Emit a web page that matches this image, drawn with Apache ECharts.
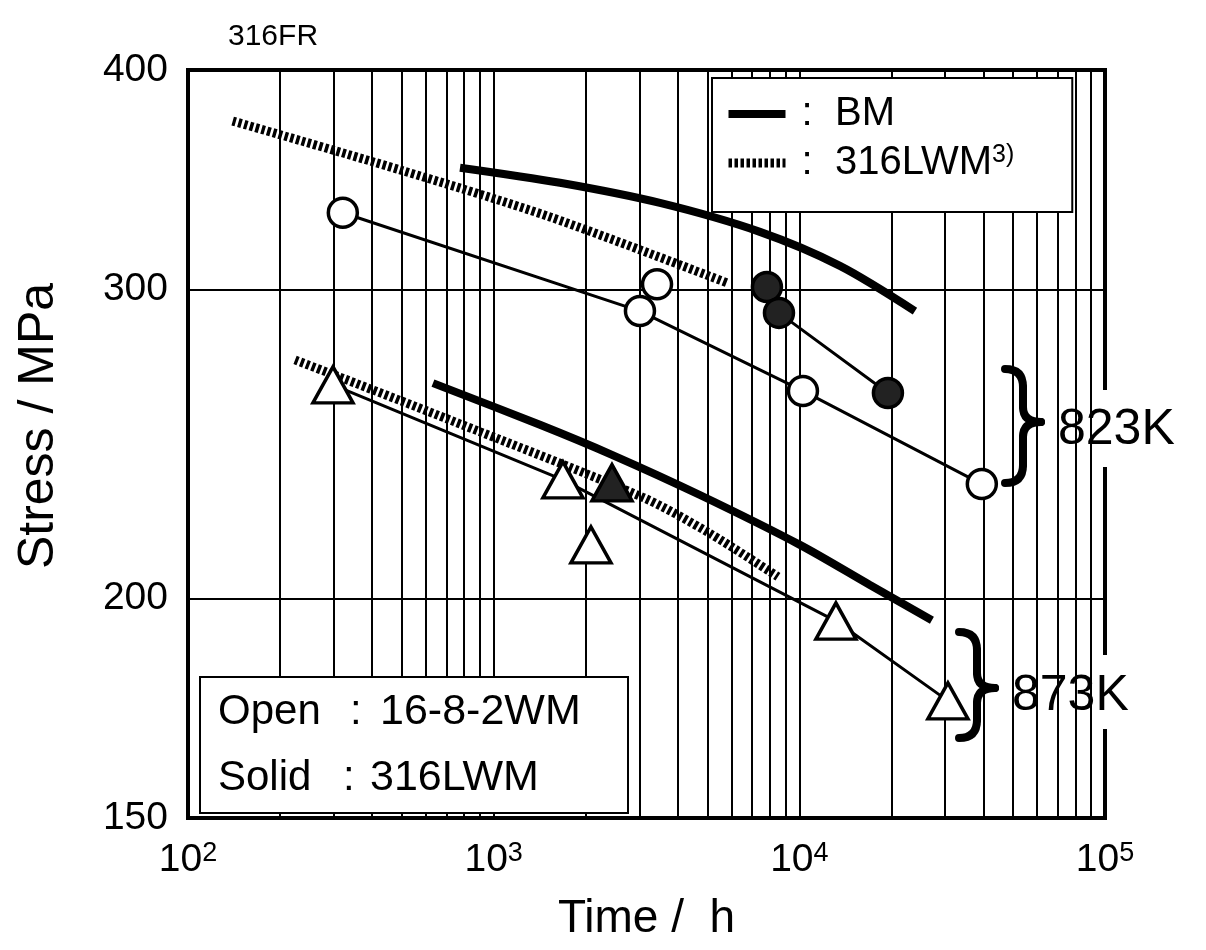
<!DOCTYPE html>
<html>
<head>
<meta charset="utf-8">
<title>316FR</title>
<script src="https://cdn.jsdelivr.net/npm/echarts@6/dist/echarts.min.js"></script>
<style>
    html, body { margin: 0; padding: 0; background: #fff; }
    #chart { width: 1206px; height: 950px; }
</style>
</head>
<body>
<div id="chart"></div>
<script>
// 轴刻度 / 网格
const timeTicks = [100, 1000, 10000, 100000]
const stressTicks = [150, 200, 300, 400]
const timeGrid = [200, 300, 400, 500, 600, 700, 800, 900, 1000,
    2000, 3000, 4000, 5000, 6000, 7000, 8000, 9000, 10000,
    20000, 30000, 40000, 50000, 60000, 70000, 80000, 90000]
const stressGrid = [200, 300]

// BM (粗实线)
const bm823 = [[776, 351.9], [1648, 345.0], [3499, 336.0], [7431, 323.5], [13575, 309.4], [23890, 291.6]]
const bm873 = [[633, 265.3], [1417, 251.2], [2438, 241.5], [4729, 229.1], [10046, 214.6], [17020, 203.6], [27150, 194.4]]
// 316LWM 3) (斜纹线)
const lwm823 = [[140, 374.1], [494, 350.9], [1528, 329.9], [5798, 302.6]]
const lwm873 = [[224, 273.5], [719, 252.8], [3056, 228.5], [5062, 218.0], [8511, 205.8]]
// 16-8-2WM (空心)
const open823 = [[321, 331.7], [3010, 291.6], [10275, 262.6], [39540, 232.4]]
const open823Single = [[3423, 302.0]]
const open873 = [[298, 264.7], [1685, 233.7], [13175, 194.2], [30630, 174.9]]
const open873Single = [[2081, 214.6]]
// 316LWM (实心)
const solid823 = [[7834, 300.9], [8578, 290.9], [19490, 261.9]]
const solid873 = [[2438, 232.8]]

const FONT = '"Liberation Sans", Arial, sans-serif'

let chart = echarts.init(document.getElementById('chart'))

function thickLine (name, data, hatched) {
    return {
        name: name,
        type: 'line',
        data: data,
        smooth: 0.3,
        symbol: 'none',
        silent: true,
        z: 4,
        itemStyle: { color: '#000' },
        lineStyle: {
            color: '#000',
            width: hatched ? 9 : 8,
            type: hatched ? [3.5, 2.5] : 'solid',
            cap: 'butt'
        }
    }
}

function markerLine (data, symbol, size, filled) {
    return {
        type: 'line',
        data: data,
        symbol: symbol,
        symbolSize: size,
        showSymbol: true,
        showAllSymbol: true,
        silent: true,
        z: 5,
        lineStyle: { color: '#000', width: 3 },
        itemStyle: {
            color: filled ? '#222' : '#fff',
            borderColor: '#000',
            borderWidth: 3.5
        }
    }
}

function markerOnly (data, symbol, size, filled) {
    return {
        type: 'scatter',
        data: data,
        symbol: symbol,
        symbolSize: size,
        silent: true,
        z: 6,
        itemStyle: {
            color: filled ? '#222' : '#fff',
            borderColor: '#000',
            borderWidth: 3.5,
            opacity: 1
        }
    }
}

// 大括号 "}"
function brace (x, y, h, tip) {
    let st = { fill: null, stroke: '#000', lineWidth: 8, lineCap: 'round' }
    let curve = (x1, y1, c1x, c1y, c2x, c2y, x2, y2) => ({
        type: 'bezierCurve', silent: true, z: 10,
        shape: { x1: x1, y1: y1, cpx1: c1x, cpy1: c1y, cpx2: c2x, cpy2: c2y, x2: x2, y2: y2 },
        style: st
    })
    let line = (x1, y1, x2, y2) => ({
        type: 'line', silent: true, z: 10,
        shape: { x1: x1, y1: y1, x2: x2, y2: y2 },
        style: st
    })
    return {
        type: 'group',
        x: x,
        y: y,
        silent: true,
        children: [
            curve(2, 2, 14, 2, 20, 8, 20, 20),
            line(20, 20, 20, tip - 15),
            curve(20, tip - 15, 20, tip - 5, 26, tip, 38, tip),
            curve(38, tip, 26, tip, 20, tip + 5, 20, tip + 15),
            line(20, tip + 15, 20, h - 20),
            curve(20, h - 20, 20, h - 8, 14, h - 2, 2, h - 2)
        ]
    }
}

function whiteBox (x, y, w, h) {
    return { type: 'rect', x: x, y: y, z: 2, silent: true, shape: { width: w, height: h }, style: { fill: '#fff' } }
}

function label (text, x, y, size) {
    return {
        type: 'text', x: x, y: y, z: 11, silent: true,
        style: { text: text, font: size + 'px ' + FONT, fill: '#000', verticalAlign: 'middle', align: 'left' }
    }
}

let option = {
    animation: false,
    backgroundColor: '#fff',
    title: {
        text: '316FR',
        left: 223,
        top: 17,
        textStyle: { fontFamily: FONT, fontSize: 30, fontWeight: 'normal', color: '#000' }
    },
    legend: {
        data: ['BM', '316LWM'],
        orient: 'vertical',
        left: 712,
        top: 78,
        padding: [16, 58, 29, 12],
        itemGap: 9,
        itemWidth: 57,
        itemHeight: 14,
        backgroundColor: '#fff',
        borderColor: '#000',
        borderWidth: 2,
        selectedMode: false,
        z: 10,
        itemStyle: { opacity: 0 },
        lineStyle: { width: 'inherit' },
        formatter: function (name) {
            return name === 'BM' ? ' :  BM' : ' :  316LWM{s|3)}'
        },
        textStyle: {
            fontFamily: FONT,
            fontSize: 40,
            lineHeight: 40,
            color: '#000',
            rich: {
                s: { fontFamily: FONT, fontSize: 25, color: '#000', verticalAlign: 'top', lineHeight: 40 }
            }
        }
    },
    grid: {
        left: 188,
        top: 70,
        right: 101,
        bottom: 132,
        show: true,
        borderColor: '#000',
        borderWidth: 4,
        backgroundColor: '#fff'
    },
    xAxis: {
        type: 'log',
        logBase: 10,
        min: 100,
        max: 100000,
        name: 'Time /  h',
        nameLocation: 'middle',
        nameGap: 78,
        nameTextStyle: { fontFamily: FONT, fontSize: 46, color: '#000' },
        axisLine: { show: false },
        axisTick: { show: false },
        splitLine: { show: false },
        axisLabel: {
            customValues: timeTicks,
            margin: 22,
            color: '#000',
            formatter: function (v) {
                return '{b|10}{s|' + Math.round(Math.log10(v)) + '}'
            },
            rich: {
                b: { fontFamily: FONT, fontSize: 39, color: '#000', lineHeight: 40 },
                s: { fontFamily: FONT, fontSize: 27, color: '#000', verticalAlign: 'top', lineHeight: 40 }
            }
        }
    },
    yAxis: {
        type: 'log',
        logBase: 10,
        min: 150,
        max: 400,
        name: 'Stress / MPa',
        nameLocation: 'middle',
        nameGap: 124,
        nameTextStyle: { fontFamily: FONT, fontSize: 50, color: '#000', padding: [0, 0, 0, 36] },
        axisLine: { show: false },
        axisTick: { show: false },
        splitLine: { show: false },
        axisLabel: {
            customValues: stressTicks,
            margin: 20,
            fontFamily: FONT,
            fontSize: 39,
            color: '#000'
        }
    },
    graphic: [
        // 标注后面的空白 (遮住网格线)
        whiteBox(998, 330, 72, 183),
        whiteBox(1000, 390, 200, 77),
        whiteBox(950, 573, 60, 204),
        whiteBox(1005, 655, 200, 74),
        brace(1003, 367, 118, 55),
        brace(957, 630, 110, 58),
        label('823K', 1058, 430, 50),
        label('873K', 1012, 696, 50),
        // 左下说明框
        {
            type: 'rect', x: 200, y: 677, z: 10, silent: true,
            shape: { width: 428, height: 136 },
            style: { fill: '#fff', stroke: '#000', lineWidth: 2 }
        },
        label('Open', 218, 712, 42),
        label(':', 350, 712, 42),
        label('16-8-2WM', 380, 712, 43),
        label('Solid', 218, 778, 42),
        label(':', 343, 778, 42),
        label('316LWM', 370, 778, 43)
    ],
    series: [
        {
            // 网格线
            type: 'line',
            data: [],
            silent: true,
            z: 1,
            markLine: {
                silent: true,
                symbol: 'none',
                animation: false,
                label: { show: false },
                lineStyle: { color: '#000', width: 2, type: 'solid' },
                data: timeGrid.map(v => ({ xAxis: v })).concat(stressGrid.map(v => ({ yAxis: v })))
            }
        },
        thickLine('BM', bm823, false),
        thickLine('BM', bm873, false),
        thickLine('316LWM', lwm823, true),
        thickLine('316LWM', lwm873, true),
        markerLine(open823, 'circle', 29, false),
        markerOnly(open823Single, 'circle', 29, false),
        markerLine(solid823, 'circle', 29, true),
        markerLine(open873, 'triangle', [40, 36], false),
        markerOnly(open873Single, 'triangle', [40, 36], false),
        markerOnly(solid873, 'triangle', [40, 36], true)
    ]
}

chart.setOption(option)
</script>
</body>
</html>
